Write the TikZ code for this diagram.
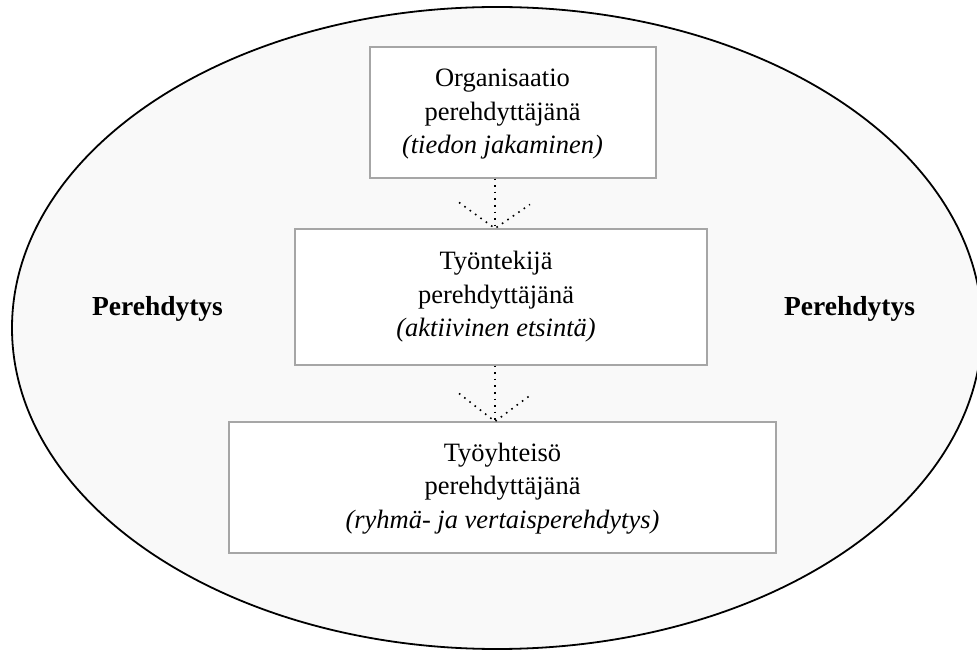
\documentclass[tikz,border=0pt]{standalone}
\usepackage{fontspec}
\setmainfont{Liberation Serif}
\usetikzlibrary{positioning}

\definecolor{bgfill}{HTML}{F9F9F9}
\definecolor{boxline}{HTML}{A6A6A6}

\tikzset{
  box/.style={draw=boxline,line width=1.1pt,fill=white,inner sep=0pt},
  boxtext/.style={align=center,inner sep=0pt,font=\fontsize{26.5}{33.5}\selectfont},
  sidelabel/.style={anchor=base,font=\fontsize{27.5}{33}\selectfont\bfseries},
  dotline/.style={line width=1.6pt,dash pattern=on 1.6pt off 5pt}
}

\begin{document}
\begin{tikzpicture}[x=1pt,y=1pt]
\useasboundingbox (0,0) rectangle (977,651);

\draw [line width=1.8pt,fill=bgfill] (497,323) ellipse [x radius=485pt,y radius=321pt];

\node [sidelabel] (p1) at (157.5,335) {Perehdytys};
\node [sidelabel] (p2) at (849.5,335) {Perehdytys};

\node [box,minimum width=286pt,minimum height=131pt] (o1) at (513,538.5) {};
\node [box,minimum width=412pt,minimum height=136pt] (o2) at (501,354) {};
\node [box,minimum width=547pt,minimum height=131pt] (o3) at (502.5,163.5) {};

\node [boxtext] (t1) at ([xshift=-10.5pt,yshift=-2pt]o1.center) {Organisaatio\\perehdyttäjänä\\\textit{(tiedon jakaminen)}};
\node [boxtext] (t2) at ([xshift=-5pt]o2.center) {Työntekijä\\perehdyttäjänä\\\textit{(aktiivinen etsintä)}};
\node [boxtext] (t3) at ([yshift=-1pt]o3.center) {Työyhteisö\\perehdyttäjänä\\\textit{(ryhmä- ja vertaisperehdytys)}};

\coordinate (a1) at ([xshift=-18pt]o1.south);
\coordinate (h1) at (a1 |- o2.north);
\coordinate (a2) at (a1 |- o2.south);
\coordinate (h2) at (a1 |- o3.north);

\draw [dotline] (a1) -- (h1);
\draw [dotline] ([xshift=-36pt,yshift=26pt]h1) -- (h1) -- ([xshift=35pt,yshift=24pt]h1);
\draw [dotline] (a2) -- (h2);
\draw [dotline] ([xshift=-36pt,yshift=28pt]h2) -- (h2) -- ([xshift=35pt,yshift=26pt]h2);

\end{tikzpicture}
\end{document}
